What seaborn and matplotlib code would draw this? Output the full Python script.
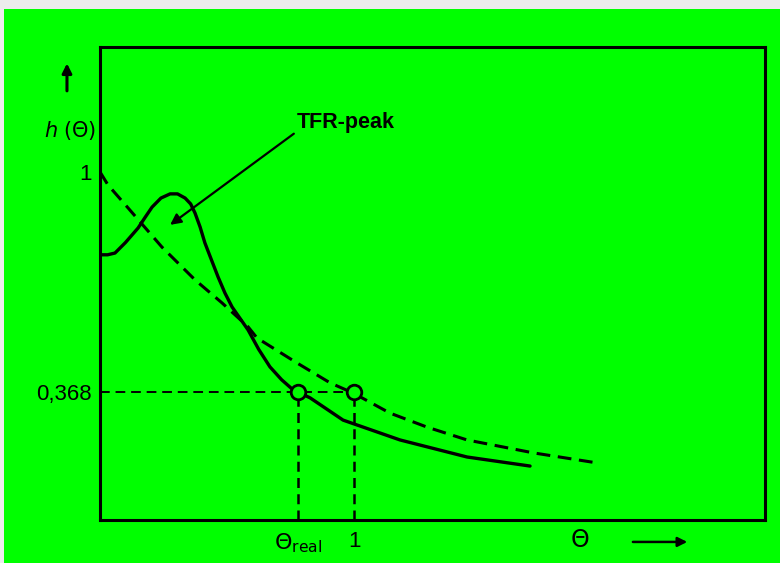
import matplotlib as mpl
import matplotlib.pyplot as plt
plt.switch_backend('Agg')
import seaborn as sns
import numpy as np
import pandas as pd

# values (theta, h(theta))
theta_solid = [0.0, 0.03, 0.059, 0.10, 0.150, 0.178, 0.205, 0.240, 0.276, 0.305, 0.335,
               0.357, 0.374, 0.394, 0.413, 0.440, 0.465, 0.492, 0.520, 0.583, 0.625,
               0.669, 0.715, 0.760, 0.827, 0.957, 1.181, 1.445, 1.693]
h_solid = [0.762, 0.762, 0.767, 0.797, 0.839, 0.870, 0.899, 0.925, 0.937, 0.937, 0.925,
           0.908, 0.882, 0.842, 0.796, 0.745, 0.698, 0.652, 0.612, 0.546, 0.490,
           0.440, 0.403, 0.374, 0.351, 0.287, 0.230, 0.181, 0.155]

theta_dashed = [0.0, 0.031, 0.110, 0.244, 0.374, 0.480, 0.583, 0.618, 0.776, 0.906,
                0.996, 1.142, 1.287, 1.445, 1.705, 1.957]
h_dashed = [1.0, 0.963, 0.897, 0.784, 0.690, 0.624, 0.555, 0.523, 0.451, 0.394,
            0.365, 0.307, 0.267, 0.230, 0.193, 0.164]

theta_marks = [0.78, 1.0]
h_mark = 0.368
xtick_labels = [r'$\Theta_{\mathrm{real}}$', '1']
ytick_vals = [0.368, 1.0]
ytick_labels = ['0,368', '1']
peak_label = 'TFR-peak'

green = '#00ff00'
sns.set_theme(style='white', rc={'axes.facecolor': green, 'figure.facecolor': green,
                                 'axes.edgecolor': 'black', 'text.color': 'black',
                                 'xtick.color': 'black', 'ytick.color': 'black'})
plt.rcParams['font.family'] = ['Liberation Sans', 'DejaVu Sans']

fig = plt.figure(figsize=(7.8, 5.63), dpi=100)
ax = fig.add_axes([100 / 780, 43 / 563, 665 / 780, 473 / 563])
# light strips along the scan edges
fig.patches.append(mpl.patches.Rectangle((0, 1 - 9 / 563), 1, 9 / 563, transform=fig.transFigure,
                                         facecolor='#ececec', edgecolor='none', zorder=-1))
fig.patches.append(mpl.patches.Rectangle((0, 0), 4 / 780, 1, transform=fig.transFigure,
                                         facecolor='#ececec', edgecolor='none', zorder=-1))

solid = pd.DataFrame({'theta': theta_solid, 'h': h_solid})
dashed = pd.DataFrame({'theta': theta_dashed, 'h': h_dashed})
sns.lineplot(data=solid, x='theta', y='h', sort=False, color='black', lw=2.4, ax=ax, zorder=3)
sns.lineplot(data=dashed, x='theta', y='h', sort=False, color='black', lw=2.2, ax=ax,
             dashes=False, zorder=3).lines[-1].set_dashes([4.5, 2.5])

# guide lines to the 0,368 crossings
ax.plot([0, theta_marks[1]], [h_mark, h_mark], color='black', lw=1.4, dashes=[5, 3], zorder=2)
for t in theta_marks:
    ax.plot([t, t], [0, h_mark], color='black', lw=1.8, dashes=[4, 2.5], zorder=2)
sns.scatterplot(x=theta_marks, y=[h_mark] * 2, s=110, facecolor=green, edgecolor='black',
                linewidth=2, ax=ax, zorder=5)

ax.annotate(peak_label, xy=(0.276, 0.848), xytext=(0.776, 1.141), fontsize=15.5,
            fontweight='bold', va='center', ha='left',
            arrowprops=dict(arrowstyle='-|>', color='black', lw=1.6, mutation_scale=16,
                            shrinkA=0, shrinkB=0, relpos=(0, 0.1)))

ax.set_xlim(0, 2.618)
ax.set_ylim(0, 1.359)
ax.set_xticks(theta_marks, xtick_labels)
ax.set_yticks(ytick_vals, ytick_labels)
ax.tick_params(axis='both', direction='inout', length=8, width=1.5, colors='black',
               labelsize=16)
ax.tick_params(axis='y', pad=2)
ax.tick_params(axis='x', pad=4)
ax.set_xlabel('')
ax.set_ylabel('')
for s in ax.spines.values():
    s.set_linewidth(2.2)

# axis names with arrows
ax.text(1.89, -0.06, r'$\Theta$', fontsize=17, ha='center', va='center', clip_on=False)
ax.annotate('', xy=(2.323, -0.063), xytext=(2.087, -0.063), annotation_clip=False,
            arrowprops=dict(arrowstyle='-|>', color='black', lw=1.8, mutation_scale=14))
ax.text(-0.12, 1.12, r'$h$ $(\Theta)$', fontsize=15, ha='center', va='center', clip_on=False)
ax.annotate('', xy=(-0.13, 1.32), xytext=(-0.13, 1.225), annotation_clip=False,
            arrowprops=dict(arrowstyle='-|>', color='black', lw=2.2, mutation_scale=14))

plt.savefig('out.png', dpi=100)
